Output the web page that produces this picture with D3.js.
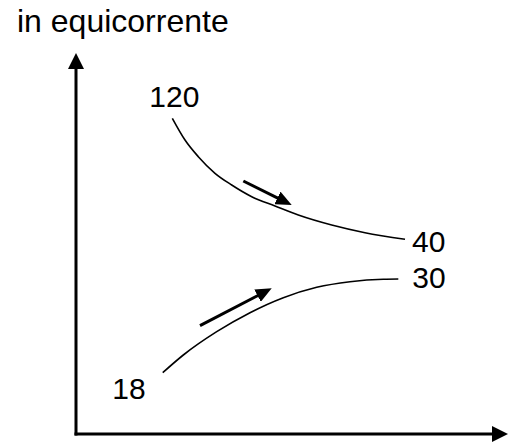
<!DOCTYPE html>
<html>
<head>
<meta charset="utf-8">
<script src="https://cdn.jsdelivr.net/npm/d3@7"></script>
<style>
  body { margin: 0; background: #fff; }
  svg { display: block; }
  text { font-family: "Liberation Sans", Arial, sans-serif; fill: #000; }
</style>
</head>
<body>
<div id="chart"></div>
<script>
var svgWidth = 508;
var svgHeight = 442;

// schematic units, 0..100 on both axes
var hotX = [24.08, 27.25, 30.58, 34.75, 38.93, 43.93, 49.75, 55.58, 63.93, 72.25, 82.25];
var hotY = [78.93, 73.5, 69.33, 65.18, 62.25, 59.33, 57, 54.75, 52.25, 50.33, 48.68];
var coldX = [21.68, 26.83, 35.18, 43.5, 51.83, 60.18, 68.5, 76.83, 80.58];
var coldY = [15.33, 19.75, 25.58, 30.33, 34.08, 36.68, 38.08, 38.7, 38.75];

// temperatures written at the ends: [inlet, outlet]
var hotTemps = ["120", "40"];
var coldTemps = ["18", "30"];

// flow direction arrows: [start, end]
var hotFlow = [[41.83, 63.25], [53.93, 57.25]];
var coldFlow = [[31, 27.08], [48.93, 36.43]];

var title = "in equicorrente";

var origin = { x: 76, y: 434 };

var svg = d3.select("#chart")
  .append("svg")
  .attr("width", svgWidth)
  .attr("height", svgHeight);

var x = d3.scaleLinear().domain([0, 100]).range([origin.x, origin.x + 400]);
var y = d3.scaleLinear().domain([0, 100]).range([origin.y, origin.y - 400]);

// arrow heads
var defs = svg.append("defs");
defs.append("marker")
  .attr("id", "axisHead")
  .attr("markerUnits", "userSpaceOnUse")
  .attr("viewBox", "0 0 16 16")
  .attr("refX", 1)
  .attr("refY", 8)
  .attr("markerWidth", 16)
  .attr("markerHeight", 16)
  .attr("orient", "auto")
  .append("path")
  .attr("d", "M0,0L16,8L0,16Z")
  .attr("fill", "#000");

defs.append("marker")
  .attr("id", "flowHead")
  .attr("markerUnits", "userSpaceOnUse")
  .attr("viewBox", "0 0 16 14")
  .attr("refX", 1)
  .attr("refY", 7)
  .attr("markerWidth", 16)
  .attr("markerHeight", 14)
  .attr("orient", "auto")
  .append("path")
  .attr("d", "M0,0L16,7L0,14Z")
  .attr("fill", "#000");

// axes (no ticks, just arrows)
svg.append("line")
  .attr("x1", x(0)).attr("y1", y(0) + 1.5)
  .attr("x2", x(0)).attr("y2", 68)
  .attr("stroke", "#000").attr("stroke-width", 3)
  .attr("marker-end", "url(#axisHead)");

svg.append("line")
  .attr("x1", x(0) - 1.5).attr("y1", y(0))
  .attr("x2", 493).attr("y2", y(0))
  .attr("stroke", "#000").attr("stroke-width", 3)
  .attr("marker-end", "url(#axisHead)");

// curves
var line = d3.line()
  .x(d => x(d[0]))
  .y(d => y(d[1]))
  .curve(d3.curveMonotoneX);

var hot = d3.zip(hotX, hotY);
var cold = d3.zip(coldX, coldY);

svg.append("path")
  .datum(hot)
  .attr("d", line)
  .attr("fill", "none")
  .attr("stroke", "#000")
  .attr("stroke-width", 1.6);

svg.append("path")
  .datum(cold)
  .attr("d", line)
  .attr("fill", "none")
  .attr("stroke", "#000")
  .attr("stroke-width", 1.6);

// flow arrows, shortened so the head tip lands on the end point
function flowArrow(pts) {
  var x1 = x(pts[0][0]), y1 = y(pts[0][1]);
  var x2 = x(pts[1][0]), y2 = y(pts[1][1]);
  var len = Math.hypot(x2 - x1, y2 - y1);
  var k = (len - 15) / len;
  svg.append("line")
    .attr("x1", x1).attr("y1", y1)
    .attr("x2", x1 + (x2 - x1) * k).attr("y2", y1 + (y2 - y1) * k)
    .attr("stroke", "#000").attr("stroke-width", 3)
    .attr("marker-end", "url(#flowHead)");
}
flowArrow(hotFlow);
flowArrow(coldFlow);

// labels
svg.append("text")
  .attr("x", 17).attr("y", 32)
  .style("font-size", "32px")
  .text(title);

var hotStart = hot[0], hotEnd = hot[hot.length - 1];
var coldStart = cold[0], coldEnd = cold[cold.length - 1];

svg.append("text")
  .attr("x", x(hotStart[0]) + 2).attr("y", y(hotStart[1]) - 11)
  .style("font-size", "30px")
  .style("text-anchor", "middle")
  .text(hotTemps[0]);

svg.append("text")
  .attr("x", x(hotEnd[0]) + 7).attr("y", y(hotEnd[1]) + 13)
  .style("font-size", "30px")
  .text(hotTemps[1]);

svg.append("text")
  .attr("x", x(coldStart[0]) - 17).attr("y", y(coldStart[1]) + 26)
  .style("font-size", "30px")
  .style("text-anchor", "end")
  .text(coldTemps[0]);

svg.append("text")
  .attr("x", x(coldEnd[0]) + 14).attr("y", y(coldEnd[1]) + 9)
  .style("font-size", "30px")
  .text(coldTemps[1]);
</script>
</body>
</html>
